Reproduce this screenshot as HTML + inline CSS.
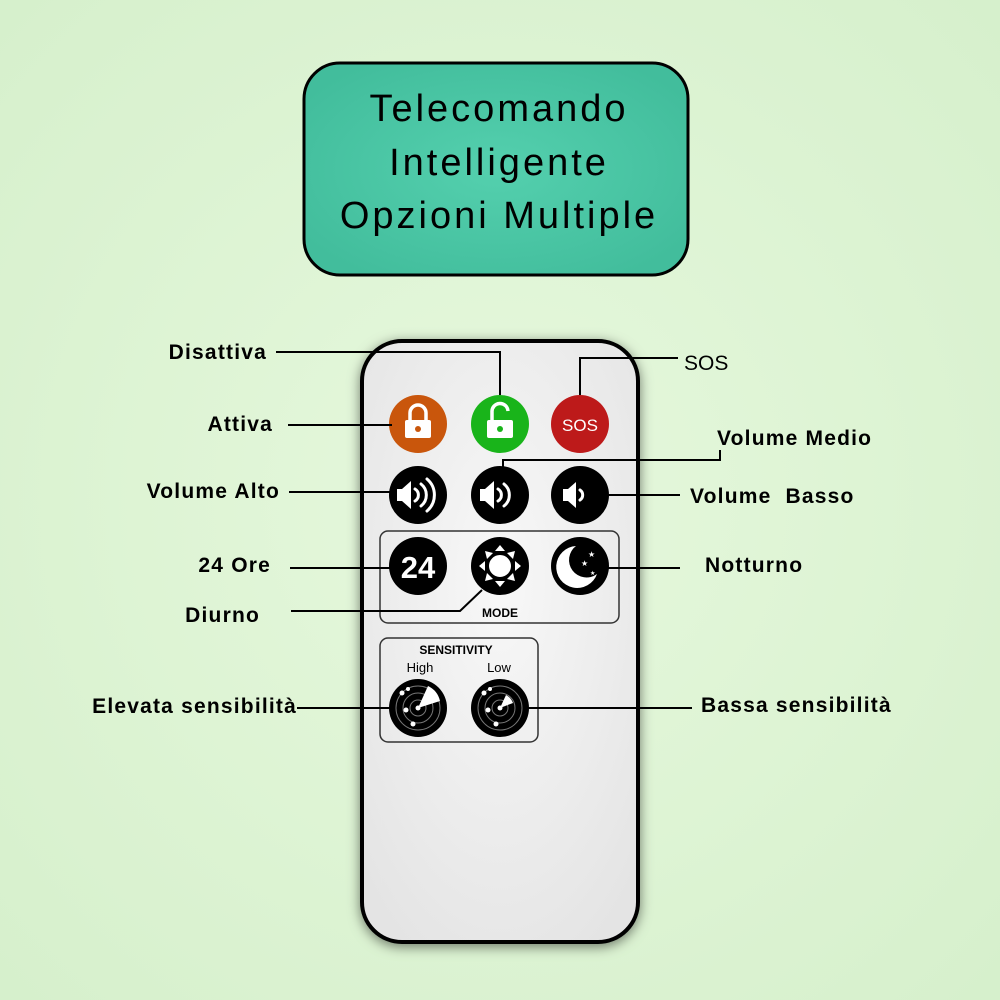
<!DOCTYPE html>
<html><head><meta charset="utf-8"><style>
body{margin:0;width:1000px;height:1000px;overflow:hidden;background:#e2f5d9;}
svg{display:block}
.l{font-family:"Liberation Sans",sans-serif;font-weight:bold;font-size:21px;letter-spacing:1.2px;fill:#000}
</style></head><body>
<svg width="1000" height="1000" viewBox="0 0 1000 1000">
<defs>
<radialGradient id="bg" cx="50%" cy="50%" r="70%"><stop offset="0" stop-color="#e6f8dd"/><stop offset="1" stop-color="#d6f0cc"/></radialGradient>
<radialGradient id="tl" cx="50%" cy="50%" r="60%"><stop offset="0" stop-color="#54d0ae"/><stop offset="1" stop-color="#42bd9c"/></radialGradient>
<radialGradient id="rm" cx="50%" cy="40%" r="70%"><stop offset="0" stop-color="#f8f8f8"/><stop offset="1" stop-color="#e4e4e4"/></radialGradient>
<filter id="sh" x="-20%" y="-20%" width="140%" height="140%"><feDropShadow dx="0" dy="3" stdDeviation="6" flood-opacity="0.5"/></filter>
</defs>
<rect width="1000" height="1000" fill="url(#bg)"/>
<rect x="304" y="63" width="384" height="212" rx="36" fill="url(#tl)" stroke="#000" stroke-width="3"/>
<g font-family="Liberation Sans,sans-serif" font-size="38" text-anchor="middle" letter-spacing="3">
<text x="499" y="121">Telecomando</text><text x="499" y="175">Intelligente</text><text x="499" y="228">Opzioni Multiple</text></g>

<rect x="362" y="341" width="276" height="601" rx="40" fill="url(#rm)" stroke="#000" stroke-width="4" filter="url(#sh)"/>
<rect x="380" y="531" width="239" height="92" rx="8" fill="none" stroke="#333" stroke-width="1.5"/>
<rect x="380" y="638" width="158" height="104" rx="8" fill="none" stroke="#333" stroke-width="1.5"/>
<g font-family="Liberation Sans,sans-serif" font-weight="bold" text-anchor="middle">
<text x="500" y="617" font-size="12">MODE</text>
<text x="456" y="654" font-size="12">SENSITIVITY</text></g>
<g font-family="Liberation Sans,sans-serif" font-size="13" text-anchor="middle">
<text x="420" y="672">High</text><text x="499" y="672">Low</text></g>

<circle cx="418" cy="424" r="29" fill="#c9560c"/>
<circle cx="500" cy="424" r="29" fill="#19b41a"/>
<circle cx="580" cy="424" r="29" fill="#bd1a1a"/>
<g fill="none" stroke="#fff" stroke-width="3.5"><path d="M410 420v-7a8 8 0 0 1 16 0v7"/><path d="M492 420v-8a8 8 0 0 1 16 -1"/></g>
<rect x="405" y="420" width="26" height="18" rx="2" fill="#fff"/><circle cx="418" cy="429" r="3" fill="#c9560c"/>
<rect x="487" y="420" width="26" height="18" rx="2" fill="#fff"/><circle cx="500" cy="429" r="3" fill="#19b41a"/>
<text x="580" y="431" font-family="Liberation Sans,sans-serif" font-size="17" fill="#fff" text-anchor="middle">SOS</text>
<g fill="#000"><circle cx="418" cy="495" r="29"/><circle cx="500" cy="495" r="29"/><circle cx="580" cy="495" r="29"/></g>
<g fill="#fff"><path d="M397 489h5l9-8v28l-9-8h-5z"/><path d="M480 489h5l9-8v28l-9-8h-5z"/><path d="M563 489h5l8-7v26l-8-7h-5z"/></g>
<g fill="none" stroke="#fff" stroke-width="3" stroke-linecap="round">
<path d="M415 489a7 7 0 0 1 0 12M421 484a14 14 0 0 1 0 22M427 479a21 21 0 0 1 0 32"/>
<path d="M498 489a7 7 0 0 1 0 12M504 484a14 14 0 0 1 0 22"/>
<path d="M580 490a6 6 0 0 1 0 10"/></g>
<g fill="#000"><circle cx="418" cy="566" r="29"/><circle cx="500" cy="566" r="29"/><circle cx="580" cy="566" r="29"/></g>
<text x="418" y="578" font-family="Liberation Sans,sans-serif" font-weight="bold" font-size="31" fill="#fff" text-anchor="middle">24</text>
<circle cx="500" cy="566" r="12" fill="#fff" stroke="#000" stroke-width="2"/>
<g fill="#fff"><path d="M500 545l-5 6h10z"/><path d="M500 587l-5-6h10z"/><path d="M479 566l6-5v10z"/><path d="M521 566l-6-5v10z"/><path d="M485 551l8 2-6 6z"/><path d="M515 551l-8 2 6 6z"/><path d="M485 581l8-2-6-6z"/><path d="M515 581l-8-2 6-6z"/></g>
<path d="M576 546a21 21 0 1 0 21 28a17 17 0 0 1 -21 -28z" fill="#fff"/>
<g fill="#fff" font-size="8" font-family="DejaVu Sans"><text x="588" y="557">★</text><text x="581" y="566">★</text><text x="590" y="575" font-size="6">★</text></g>
<g fill="#000"><circle cx="418" cy="708" r="29"/><circle cx="500" cy="708" r="29"/></g>
<g fill="none" stroke="#777" stroke-width="1"><circle cx="418" cy="708" r="22"/><circle cx="418" cy="708" r="15"/><circle cx="418" cy="708" r="8"/><circle cx="500" cy="708" r="22"/><circle cx="500" cy="708" r="15"/><circle cx="500" cy="708" r="8"/></g>
<path d="M418 708l10-22a22 22 0 0 1 12 15z" fill="#fff"/>
<path d="M500 708l6-13a15 15 0 0 1 7 8z" fill="#fff"/>
<g fill="#fff"><circle cx="402" cy="693" r="2.5"/><circle cx="408" cy="689" r="2"/><circle cx="406" cy="710" r="2.5"/><circle cx="413" cy="724" r="2.5"/><circle cx="484" cy="693" r="2.5"/><circle cx="490" cy="689" r="2"/><circle cx="488" cy="710" r="2.5"/><circle cx="496" cy="724" r="2.5"/><circle cx="418" cy="708" r="2.5"/><circle cx="500" cy="708" r="2.5"/></g>

<g fill="none" stroke="#000" stroke-width="2">
<path d="M276 352H500V395"/>
<path d="M288 425H392"/>
<path d="M289 492H392"/>
<path d="M290 568H392"/>
<path d="M291 611H460L482 590"/>
<path d="M297 708H392"/>
<path d="M580 395V358H678"/>
<path d="M503 467V460H720V450"/>
<path d="M607 495H680"/>
<path d="M607 568H680"/>
<path d="M527 708H692"/>
</g>
<text class="l" x="267" y="359" text-anchor="end">Disattiva</text>
<text class="l" x="273" y="431" text-anchor="end">Attiva</text>
<text class="l" x="280" y="498" text-anchor="end">Volume Alto</text>
<text class="l" x="271" y="572" text-anchor="end">24 Ore</text>
<text class="l" x="260" y="622" text-anchor="end">Diurno</text>
<text class="l" x="297" y="713" text-anchor="end">Elevata sensibilità</text>
<text x="684" y="370" font-family="Liberation Sans,sans-serif" font-size="21">SOS</text>
<text class="l" x="717" y="445">Volume Medio</text>
<text class="l" x="690" y="503" xml:space="preserve">Volume  Basso</text>
<text class="l" x="705" y="572">Notturno</text>
<text class="l" x="701" y="712">Bassa sensibilità</text>
</svg>
</body></html>
